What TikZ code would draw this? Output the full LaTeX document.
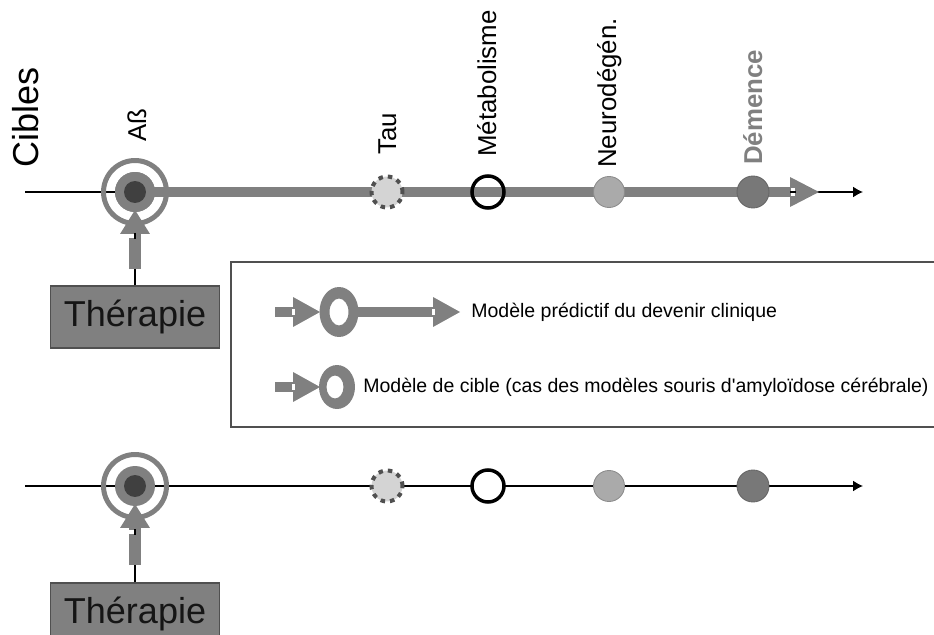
\documentclass[tikz,border=0pt]{standalone}
\usepackage{fontspec}
\setmainfont{Liberation Sans}[Ligatures=TeXOff]
\usepackage{tikz}
\usetikzlibrary{arrows.meta}

\definecolor{bandgray}{HTML}{808080}
\definecolor{darkdot}{HTML}{404040}
\definecolor{taufill}{HTML}{D4D4D4}
\definecolor{taudash}{HTML}{505050}
\definecolor{neufill}{HTML}{AAAAAA}
\definecolor{neudraw}{HTML}{8C8C8C}
\definecolor{demfill}{HTML}{787878}
\definecolor{demdraw}{HTML}{666666}
\definecolor{boxedge}{HTML}{505050}
\definecolor{textdark}{HTML}{151515}

\tikzset{
	axisline/.style={line width=0.85pt, -{Latex[length=0.2cm,width=0.22cm]}},
	band/.style={draw=bandgray, line width=0.2cm},
	bigtip/.style={-{Triangle[length=0.58cm,width=0.6cm,line width=0pt]}},
	legtip/.style={-{Triangle[length=0.54cm,width=0.6cm,line width=0pt]}},
	uptip/.style={-{Triangle[length=0.48cm,width=0.6cm,line width=0pt]}},
	marker/.style={circle, inner sep=0, minimum size=0.62cm},
	taumark/.style={marker, fill=taufill, draw=taudash, line width=0.08cm, dash pattern=on 0.09cm off 0.1cm},
	metmark/.style={marker, draw=black, line width=0.07cm, minimum size=0.64cm},
	neumark/.style={marker, fill=neufill, draw=neudraw, line width=0.5pt},
	demmark/.style={marker, fill=demfill, draw=demdraw, line width=0.5pt, minimum size=0.64cm},
	ring/.style={circle, draw=bandgray, line width=0.1cm, minimum size=1.26cm, inner sep=0},
	disk/.style={circle, fill=bandgray, minimum size=0.8cm, inner sep=0},
	core/.style={circle, fill=darkdot, minimum size=0.44cm, inner sep=0},
	lbl/.style={rotate=90, anchor=base west, inner sep=0, font=\fontsize{14.7}{17}\selectfont},
	therbox/.style={draw=boxedge, fill=bandgray, line width=0.6pt, minimum width=3.38cm, minimum height=1.24cm, inner sep=0, text=textdark, font=\fontsize{20.5}{24}\selectfont},
	legtext/.style={anchor=west, inner sep=0, font=\fontsize{11.1}{13}\selectfont}
}

\begin{document}
\begin{tikzpicture}[x=0.02cm, y=-0.02cm]
	\useasboundingbox (0,0) rectangle (934,635);
	% Top time line:
	\coordinate (axT0) at (25,192);
	\coordinate (axT1) at (863,192);
	\coordinate (bandT) at (819,192);
	\draw[axisline] (axT0) -- (axT1);
	\node[disk] (abT) at (135,192) {};
	\draw[band, bigtip] (abT.center) -- (bandT);
	\fill[white] (791,188) rectangle (795,196);
	\draw[line width=0.85pt] (790,192) -- (796,192);
	\node[ring] (ringT) at (135,192) {};
	\node[disk] at (abT) {};
	\node[core] (coreT) at (abT) {};
	\node[taumark] (tauT) at (387,192) {};
	\node[metmark] (metT) at (488,192) {};
	\node[neumark] (neuT) at (609,192) {};
	\node[demmark] (demT) at (753,192) {};
	\node[rotate=90, anchor=base west, inner sep=0, font=\fontsize{20.5}{24}\selectfont] (cibles) at (38.5,168) {Cibles};
	\node[lbl] (labAb) at (146,142) {Aß};
	\node[lbl] (labTau) at (396,155) {Tau};
	\node[lbl] (labMet) at (496,157) {Métabolisme};
	\node[lbl] (labNeu) at (616,168) {Neurodégén.};
	\node[lbl, text=bandgray, font=\fontsize{14.7}{17}\bfseries] (labDem) at (762,165) {Démence};
	% Therapy arrow (top):
	\node[therbox] (therT) at (135,317) {Thérapie};
	\coordinate (shT) at (135,269);
	\coordinate (tipT) at (135,210);
	\draw[line width=0.8pt] (therT) -- (shT);
	\draw[band, line width=0.26cm, uptip] (shT) -- (tipT);
	\fill[white] (129,234) rectangle (136,238);
	\draw[line width=0.7pt] (135,233) -- (135,239);
	% Legend:
	\node[draw=boxedge, line width=0.7pt, minimum width=14.28cm, minimum height=3.3cm, inner sep=0] (legend) at (588,344.5) {};
	\coordinate (leg1a) at (275,312);
	\coordinate (leg1b) at (320,312);
	\coordinate (leg1c) at (352,312);
	\coordinate (leg1d) at (460,312);
	\draw[band, legtip] (leg1a) -- (leg1b);
	\draw[band, legtip] (leg1c) -- (leg1d);
	\fill[bandgray, even odd rule] (339,312) ellipse [x radius=0.39cm, y radius=0.5cm] (339,312) ellipse [x radius=0.19cm, y radius=0.27cm];
	\fill[white] (292,309) rectangle (295,315);
	\fill[white] (432,309) rectangle (435,315);
	\node[legtext] (leg1) at (471,312) {Modèle prédictif du devenir clinique};
	\coordinate (leg2a) at (275,387);
	\coordinate (leg2b) at (320,387);
	\draw[band, legtip] (leg2a) -- (leg2b);
	\fill[bandgray, even odd rule] (337,387) ellipse [x radius=0.36cm, y radius=0.44cm] (335,387) ellipse [x radius=0.17cm, y radius=0.23cm];
	\fill[white] (292,384) rectangle (295,390);
	\node[legtext] (leg2) at (363,387) {Modèle de cible (cas des modèles souris d'amyloïdose cérébrale)};
	% Bottom time line:
	\coordinate (axB0) at (25,486);
	\coordinate (axB1) at (863,486);
	\draw[axisline] (axB0) -- (axB1);
	\node[ring] (ringB) at (135,486) {};
	\node[disk] (abB) at (135,486) {};
	\node[core] (coreB) at (abB) {};
	\node[taumark] (tauB) at (387,486) {};
	\node[metmark, fill=white] (metB) at (488,486) {};
	\node[neumark] (neuB) at (609,486) {};
	\node[demmark] (demB) at (753,486) {};
	% Therapy arrow (bottom):
	\node[therbox] (therB) at (135,614) {Thérapie};
	\coordinate (shB) at (135,565);
	\coordinate (tipB) at (135,504);
	\draw[line width=0.8pt] (therB) -- (shB);
	\draw[band, line width=0.26cm, uptip] (shB) -- (tipB);
	\fill[white] (129,530) rectangle (136,534);
	\draw[line width=0.7pt] (135,529) -- (135,535);
\end{tikzpicture}
\end{document}
